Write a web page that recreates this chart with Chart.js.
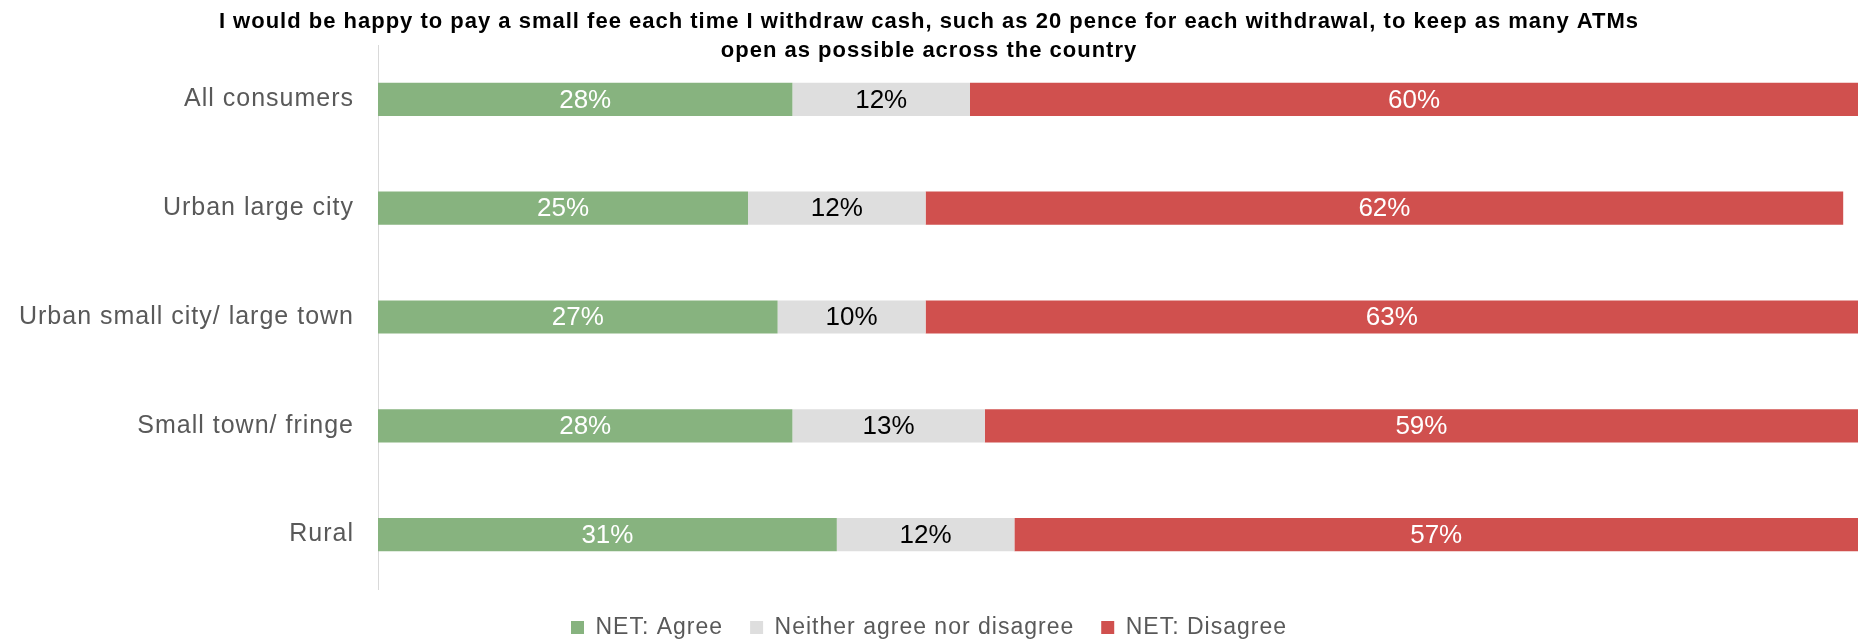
<!DOCTYPE html>
<html>
<head>
<meta charset="utf-8">
<script src="https://cdn.jsdelivr.net/npm/chart.js@4.4.1/dist/chart.umd.min.js"></script>
<style>
  html, body { margin: 0; padding: 0; background: #ffffff; }
  #wrap { width: 1858px; height: 643px; position: relative; }
</style>
</head>
<body>
<div id="wrap"><canvas id="chart"></canvas></div>
<script>
// Survey answers by area type (percent of respondents)
const categories = [
  'All consumers',
  'Urban large city',
  'Urban small city/ large town',
  'Small town/ fringe',
  'Rural'
];
const agree    = [28, 25, 27, 28, 31];
const neither  = [12, 12, 10, 13, 12];
const disagree = [60, 62, 63, 59, 57];
const seriesNames = ['NET: Agree', 'Neither agree nor disagree', 'NET: Disagree'];
const titleLines = [
  'I would be happy to pay a small fee each time I withdraw cash, such as 20 pence for each withdrawal, to keep as many ATMs',
  'open as possible across the country'
];

const FONT = '"Liberation Sans", Arial, Helvetica, sans-serif';
const colors = ['#87b37f', '#dedede', '#d0504e'];
const labelColors = ['#ffffff', '#000000', '#ffffff'];

// Slight tracking on axis, legend and title text
const tracking = {
  id: 'tracking',
  beforeUpdate(chart) { chart.ctx.letterSpacing = '1px'; },
  beforeDraw(chart) { chart.ctx.letterSpacing = '1px'; }
};

// Percentage written in the middle of each bar segment
const segmentLabels = {
  id: 'segmentLabels',
  afterDatasetsDraw(chart) {
    const ctx = chart.ctx;
    ctx.save();
    ctx.letterSpacing = '0px';
    ctx.font = '26px ' + FONT;
    ctx.textAlign = 'center';
    ctx.textBaseline = 'middle';
    chart.data.datasets.forEach((ds, di) => {
      const meta = chart.getDatasetMeta(di);
      meta.data.forEach((bar, i) => {
        const v = ds.data[i];
        const cx = (bar.x + bar.base) / 2;
        ctx.fillStyle = labelColors[di];
        ctx.fillText(v + '%', cx, bar.y + 1);
      });
    });
    ctx.restore();
  }
};

new Chart(document.getElementById('chart'), {
  type: 'bar',
  data: {
    labels: categories,
    datasets: [
      { label: seriesNames[0], data: agree,    backgroundColor: colors[0] },
      { label: seriesNames[1], data: neither,  backgroundColor: colors[1] },
      { label: seriesNames[2], data: disagree, backgroundColor: colors[2] }
    ]
  },
  options: {
    indexAxis: 'y',
    responsive: true,
    maintainAspectRatio: false,
    animation: false,
    datasets: {
      bar: { categoryPercentage: 1, barPercentage: 0.305, borderWidth: 0 }
    },
    layout: { padding: { left: 0, right: 0, top: 0, bottom: -6 } },
    scales: {
      x: {
        stacked: true,
        min: 0,
        max: 100,
        display: false
      },
      y: {
        stacked: true,
        grid: { display: false, drawTicks: false },
        border: { display: true, color: '#d9d9d9', width: 1 },
        ticks: {
          color: '#595959',
          padding: 24,
          font: { family: FONT, size: 25 }
        },
        afterFit(scale) { scale.width = 378; }
      }
    },
    plugins: {
      title: {
        display: true,
        text: titleLines,
        color: '#000000',
        font: { family: FONT, size: 22, weight: 'bold', lineHeight: 1.33 },
        padding: { top: 7, bottom: -20.5 }
      },
      legend: {
        display: true,
        position: 'bottom',
        labels: {
          color: '#595959',
          boxWidth: 13,
          boxHeight: 13,
          padding: 27,
          font: { family: FONT, size: 23 }
        }
      },
      tooltip: { enabled: false }
    }
  },
  plugins: [tracking, segmentLabels]
});
</script>
</body>
</html>
